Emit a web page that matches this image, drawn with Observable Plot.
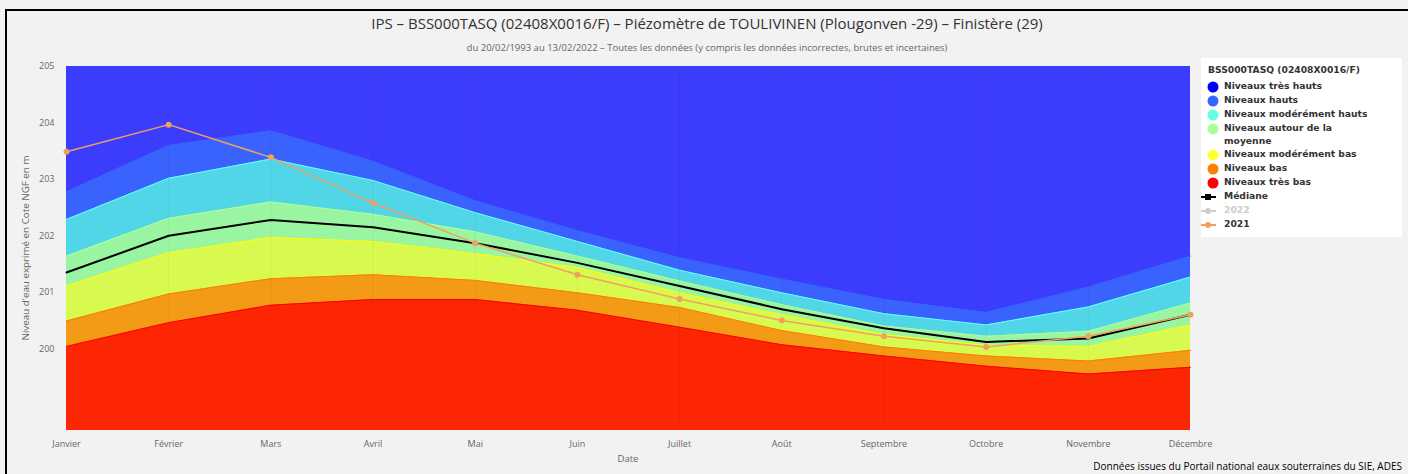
<!DOCTYPE html>
<html><head><meta charset="utf-8">
<script src="https://cdn.jsdelivr.net/npm/d3@7"></script>
<script src="https://cdn.jsdelivr.net/npm/@observablehq/plot@0.6"></script>
<style>
html,body{margin:0;padding:0;background:#f2f2f2;}
#wrap{position:relative;width:1408px;height:474px;overflow:hidden;background:#f2f2f2;font-family:"Open Sans",sans-serif;}
#frame{position:absolute;left:5px;top:9px;width:1410px;height:480px;border-left:2px solid #000;border-top:2px solid #000;}
#title{position:absolute;left:0;width:1414px;top:13px;text-align:center;font-size:15px;color:#333;}
#subtitle{position:absolute;left:0;width:1414px;top:41px;text-align:center;font-size:9.5px;color:#666;}
#ylab{position:absolute;left:25px;top:248px;transform:translate(-50%,-50%) rotate(-90deg);font-size:9.8px;color:#666;white-space:nowrap;}
#xlab{position:absolute;left:628px;top:452px;transform:translateX(-50%);font-size:9.5px;color:#666;}
#credit{position:absolute;right:6px;top:459px;font-size:10px;color:#000;white-space:nowrap;}
#legend{position:absolute;left:1201px;top:58px;width:201px;height:179px;background:#fff;font-family:"DejaVu Sans",sans-serif;font-weight:bold;font-size:9.2px;color:#333;}
#legend .it{position:absolute;left:0;white-space:nowrap;}
#chart{position:absolute;left:0;top:0;}
</style></head>
<body>
<div id="wrap">
<div id="frame"></div>
<div id="title">IPS – BSS000TASQ (02408X0016/F) – Piézomètre de TOULIVINEN (Plougonven -29) – Finistère (29)</div>
<div id="subtitle">du 20/02/1993 au 13/02/2022 – Toutes les données (y compris les données incorrectes, brutes et incertaines)</div>
<div id="chart"></div>
<div id="ylab">Niveau d'eau exprimé en Cote NGF en m</div>
<div id="xlab">Date</div>
<div id="credit">Données issues du Portail national eaux souterraines du SIE, ADES</div>
<div id="legend"></div>
</div>
<script>
const months = ["Janvier","Février","Mars","Avril","Mai","Juin","Juillet","Août","Septembre","Octobre","Novembre","Décembre"];
// upper boundaries of each band (m NGF)
const tresBas   = [200.04,200.46,200.77,200.87,200.87,200.68,200.38,200.07,199.87,199.69,199.55,199.67];
const bas       = [200.49,200.97,201.24,201.31,201.21,200.99,200.73,200.32,200.03,199.87,199.78,199.97];
const modBas    = [201.11,201.70,201.97,201.90,201.68,201.44,200.99,200.60,200.25,200.06,200.04,200.42];
const moyenne   = [201.64,202.31,202.60,202.38,202.07,201.64,201.20,200.78,200.40,200.22,200.31,200.81];
const modHauts  = [202.29,203.02,203.36,202.98,202.41,201.90,201.39,200.99,200.62,200.42,200.74,201.27];
const hauts     = [202.78,203.60,203.86,203.32,202.62,202.09,201.61,201.23,200.87,200.64,201.09,201.64];
const tresHauts = [205,205,205,205,205,205,205,205,205,205,205,205];
const mediane   = [201.35,202.00,202.28,202.15,201.87,201.52,201.11,200.70,200.36,200.12,200.18,200.60];
const y2021     = [203.49,203.97,203.39,202.58,201.87,201.31,200.88,200.50,200.22,200.03,200.22,200.60];
const yTicks = [200,201,202,203,204,205];
const yMin = 198.55;

const bands = [
  {name:"Niveaux très hauts", v:tresHauts, fill:"#3c3cfd", line:null},
  {name:"Niveaux hauts", v:hauts, fill:"#3a62fc", line:"#3366ff"},
  {name:"Niveaux modérément hauts", v:modHauts, fill:"#50d6e6", line:"#66ffff"},
  {name:"Niveaux autour de la moyenne", v:moyenne, fill:"#9af5a3", line:"#aaff99"},
  {name:"Niveaux modérément bas", v:modBas, fill:"#d8fa50", line:"#ffff00"},
  {name:"Niveaux bas", v:bas, fill:"#f39a17", line:"#ff7f00"},
  {name:"Niveaux très bas", v:tresBas, fill:"#fd2603", line:"#ff0000"}
];

const idx = months.map((m,i)=>i);
const marks = [];
bands.forEach(b=>{
  const data = idx.map(i=>({x:i, y:b.v[i]}));
  marks.push(Plot.areaY(data,{x:"x", y1:yMin, y2:"y", fill:b.fill}));
});
bands.forEach(b=>{
  if(!b.line) return;
  const data = idx.map(i=>({x:i, y:b.v[i]}));
  marks.push(Plot.lineY(data,{x:"x", y:"y", stroke:b.line, strokeWidth:1}));
});
marks.push(Plot.ruleX(idx.slice(1,11),{stroke:"#000", strokeOpacity:0.04}));
const med = idx.map(i=>({x:i, y:mediane[i]}));
marks.push(Plot.lineY(med,{x:"x", y:"y", stroke:"#000", strokeWidth:2}));
const d21 = idx.map(i=>({x:i, y:y2021[i]}));
marks.push(Plot.lineY(d21,{x:"x", y:"y", stroke:"#f0a060", strokeWidth:1.5}));
marks.push(Plot.dot(d21,{x:"x", y:"y", fill:"#f0a060", r:3}));
marks.push(Plot.axisY(yTicks,{tickSize:0, tickPadding:12, fontSize:9, fill:"#666", label:null, tickFormat:d=>String(d)}));
marks.push(Plot.axisX(idx,{tickSize:0, tickPadding:10, fontSize:9, fill:"#666", label:null, tickFormat:i=>months[i]}));

const svg = Plot.plot({
  width:1408, height:474,
  marginLeft:66, marginRight:218, marginTop:66, marginBottom:44,
  style:{background:"transparent", fontFamily:"Open Sans, sans-serif", overflow:"visible"},
  x:{type:"linear", domain:[0,11]},
  y:{domain:[yMin,205]},
  marks
});
document.getElementById("chart").appendChild(svg);

// legend
const lg = document.getElementById("legend");
let html = `<div class="it" style="left:7px;top:6px;">BSS000TASQ (02408X0016/F)</div>`;
const rows = [
  {t:"Niveaux très hauts", y:29, dot:"#0000ff"},
  {t:"Niveaux hauts", y:43, dot:"#3366ff"},
  {t:"Niveaux modérément hauts", y:57, dot:"#66ffe6"},
  {t:"Niveaux autour de la<br>moyenne", y:71, dot:"#aaff99"},
  {t:"Niveaux modérément bas", y:97, dot:"#ffff33"},
  {t:"Niveaux bas", y:111, dot:"#ff7f00"},
  {t:"Niveaux très bas", y:125, dot:"#ff0000"},
];
rows.forEach(r=>{
  html += `<svg style="position:absolute;left:6px;top:${r.y-6}px" width="12" height="12"><circle cx="6" cy="6" r="5.5" fill="${r.dot}"/></svg>`;
  html += `<div class="it" style="left:23px;top:${r.y-7}px;line-height:12.5px">${r.t}</div>`;
});
const lines = [
  {t:"Médiane", y:139, c:"#000", tc:"#333", sq:true},
  {t:"2022", y:153, c:"#ccc", tc:"#ccc"},
  {t:"2021", y:167, c:"#f0a060", tc:"#333"},
];
lines.forEach(r=>{
  const m = r.sq ? `<rect x="4" y="3" width="6" height="6" fill="${r.c}"/>` : `<circle cx="7" cy="6" r="3" fill="${r.c}"/>`;
  html += `<svg style="position:absolute;left:0px;top:${r.y-6}px" width="16" height="12"><line x1="0" x2="15" y1="6" y2="6" stroke="${r.c}" stroke-width="2"/>${m}</svg>`;
  html += `<div class="it" style="left:23px;top:${r.y-7}px;color:${r.tc}">${r.t}</div>`;
});
lg.innerHTML = html;
</script>
</body></html>
